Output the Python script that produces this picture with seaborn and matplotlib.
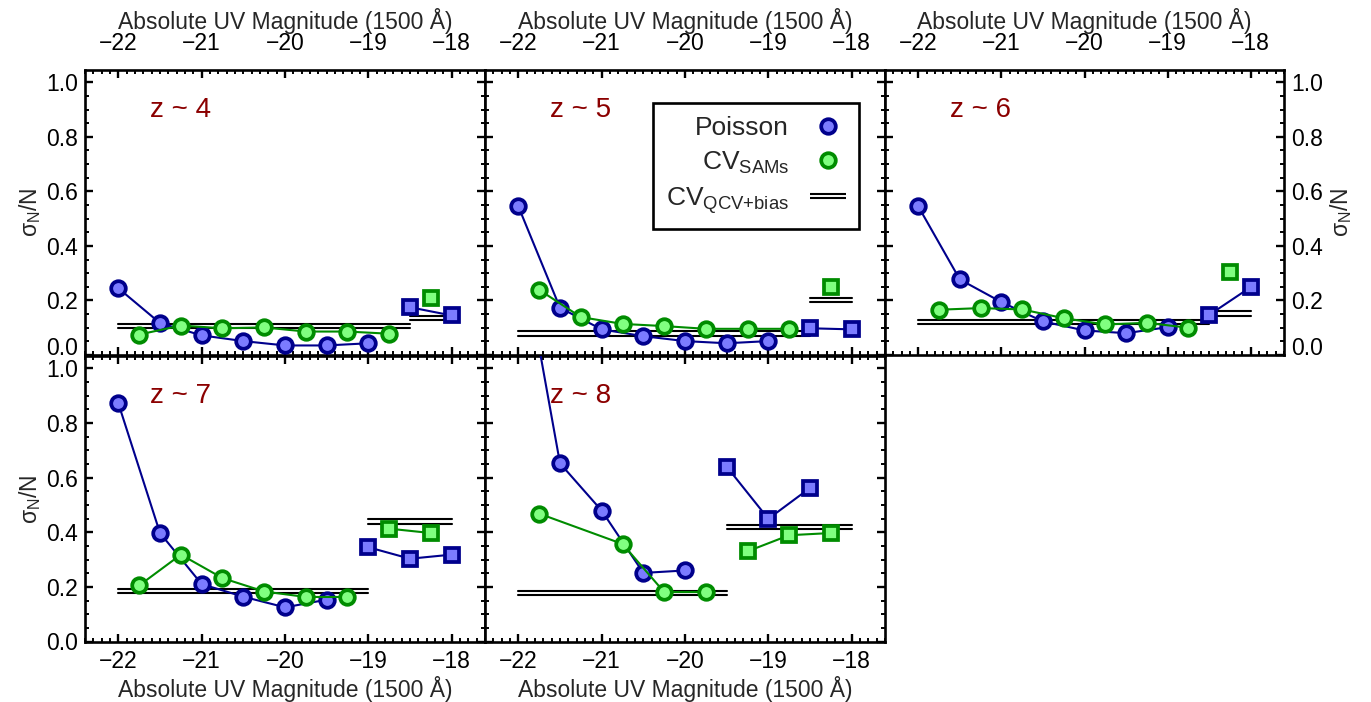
import matplotlib
matplotlib.use("Agg")
import matplotlib.pyplot as plt
import matplotlib.transforms as mtransforms
from matplotlib.lines import Line2D
from matplotlib.legend_handler import HandlerBase
from matplotlib.ticker import MultipleLocator
import seaborn as sns

sns.set_style("ticks")
plt.rcParams["font.family"] = ["Liberation Sans", "DejaVu Sans"]
plt.rcParams["mathtext.fontset"] = "custom"
plt.rcParams["mathtext.rm"] = "Liberation Sans"
plt.rcParams["mathtext.it"] = "Liberation Sans:italic"
plt.rcParams["mathtext.bf"] = "Liberation Sans:bold"

# ---------------- data ----------------
panel_labels = ["z ~ 4", "z ~ 5", "z ~ 6", "z ~ 7", "z ~ 8"]
x_ticks = [-22, -21, -20, -19, -18]
y_ticks = [0.0, 0.2, 0.4, 0.6, 0.8, 1.0]

# Poisson (circles, bright bins)
poisson_x_z4 = [-22.0, -21.5, -21.0, -20.5, -20.0, -19.5, -19.0]
poisson_z4 = [0.245, 0.117, 0.072, 0.051, 0.035, 0.035, 0.043]
poisson_x_z5 = [-22.0, -21.5, -21.0, -20.5, -20.0, -19.5, -19.0]
poisson_z5 = [0.545, 0.173, 0.094, 0.069, 0.051, 0.043, 0.051]
poisson_x_z6 = [-22.0, -21.5, -21.0, -20.5, -20.0, -19.5, -19.0]
poisson_z6 = [0.545, 0.277, 0.194, 0.123, 0.090, 0.080, 0.102]
poisson_x_z7 = [-22.0, -21.5, -21.0, -20.5, -20.0, -19.5]
poisson_z7 = [0.872, 0.397, 0.210, 0.164, 0.125, 0.153]
poisson_x_z8 = [-22.0, -21.5, -21.0, -20.5, -20.0]
poisson_z8 = [1.50, 0.652, 0.479, 0.251, 0.260]

# CV from SAMs (circles, bright bins)
sams_x_z4 = [-21.75, -21.25, -20.75, -20.25, -19.75, -19.25, -18.75]
sams_z4 = [0.075, 0.108, 0.098, 0.101, 0.086, 0.086, 0.078]
sams_x_z5 = [-21.75, -21.25, -20.75, -20.25, -19.75, -19.25, -18.75]
sams_z5 = [0.239, 0.139, 0.114, 0.106, 0.096, 0.096, 0.096]
sams_x_z6 = [-21.75, -21.25, -20.75, -20.25, -19.75, -19.25, -18.75]
sams_z6 = [0.166, 0.172, 0.167, 0.135, 0.112, 0.118, 0.100]
sams_x_z7 = [-21.75, -21.25, -20.75, -20.25, -19.75, -19.25]
sams_z7 = [0.205, 0.318, 0.232, 0.183, 0.163, 0.163]
sams_x_z8 = [-21.75, -20.75, -20.25, -19.75]
sams_z8 = [0.468, 0.357, 0.181, 0.181]

# Poisson (squares, faint bins)
poisson_sq_x_z4 = [-18.5, -18.0]
poisson_sq_z4 = [0.175, 0.145]
poisson_sq_x_z5 = [-18.5, -18.0]
poisson_sq_z5 = [0.098, 0.094]
poisson_sq_x_z6 = [-18.5, -18.0]
poisson_sq_z6 = [0.147, 0.249]
poisson_sq_x_z7 = [-19.0, -18.5, -18.0]
poisson_sq_z7 = [0.345, 0.303, 0.318]
poisson_sq_x_z8 = [-19.5, -19.0, -18.5]
poisson_sq_z8 = [0.640, 0.449, 0.562]

# CV from SAMs (squares, faint bins)
sams_sq_x_z4 = [-18.25]
sams_sq_z4 = [0.210]
sams_sq_x_z5 = [-18.25]
sams_sq_z5 = [0.249]
sams_sq_x_z6 = [-18.25]
sams_sq_z6 = [0.306]
sams_sq_x_z7 = [-18.75, -18.25]
sams_sq_z7 = [0.413, 0.397]
sams_sq_x_z8 = [-19.25, -18.75, -18.25]
sams_sq_z8 = [0.330, 0.389, 0.397]

# CV QCV+bias: bright segment and faint segment
qcv_break = [-18.5, -18.5, -18.5, -19.0, -19.5]
qcv_bright = [0.106, 0.0785, 0.1215, 0.1845, 0.1775]
qcv_faint = [0.135, 0.201, 0.1515, 0.439, 0.420]
mag_min, mag_max = -22.0, -18.0

poisson_x = [poisson_x_z4, poisson_x_z5, poisson_x_z6, poisson_x_z7, poisson_x_z8]
poisson_y = [poisson_z4, poisson_z5, poisson_z6, poisson_z7, poisson_z8]
sams_x = [sams_x_z4, sams_x_z5, sams_x_z6, sams_x_z7, sams_x_z8]
sams_y = [sams_z4, sams_z5, sams_z6, sams_z7, sams_z8]
poisson_sq_x = [poisson_sq_x_z4, poisson_sq_x_z5, poisson_sq_x_z6, poisson_sq_x_z7, poisson_sq_x_z8]
poisson_sq_y = [poisson_sq_z4, poisson_sq_z5, poisson_sq_z6, poisson_sq_z7, poisson_sq_z8]
sams_sq_x = [sams_sq_x_z4, sams_sq_x_z5, sams_sq_x_z6, sams_sq_x_z7, sams_sq_x_z8]
sams_sq_y = [sams_sq_z4, sams_sq_z5, sams_sq_z6, sams_sq_z7, sams_sq_z8]

# ---------------- styles ----------------
NAVY = "#00008C"
LBLUE = "#7B7BFF"
GREEN = "#008C00"
LGREEN = "#80FF80"
DRED = "#8B0000"
MS = 10.5
MEW = 2.7
LW = 1.5
GAP = 1.6  # half-distance (points) between the two strokes of the double line

W, H = 1371, 702
fig = plt.figure(figsize=(W / 100, H / 100), dpi=100)


def rect(l, t, w, h):
    return [l / W, 1 - (t + h) / H, w / W, h / H]


positions = [rect(85, 70, 400, 285), rect(485, 70, 400, 285), rect(885, 70, 399, 285),
             rect(85, 356, 400, 285.5), rect(485, 356, 400, 285.5)]

xlabel = "Absolute UV Magnitude (1500 Å)"
ylabel = r"σ$_{\mathrm{N}}$/N"


def series(ax, xs, ys, edge, face, marker):
    sns.lineplot(x=xs, y=ys, ax=ax, color=edge, linewidth=LW, marker=marker,
                 markersize=MS if marker == "o" else MS - 0.5,
                 markerfacecolor=face, markeredgecolor=edge,
                 markeredgewidth=MEW, errorbar=None, zorder=4)


class HandlerDoubleLine(HandlerBase):
    def create_artists(self, legend, orig_handle, xdescent, ydescent, width, height,
                       fontsize, trans):
        yc = height / 2.0 - ydescent
        off = GAP * legend.figure.dpi / 72.0 / 1.0
        arts = []
        for dy in (-GAP, GAP):
            ln = Line2D([-xdescent, -xdescent + width], [yc + dy, yc + dy],
                        color="black", lw=1.5, solid_capstyle="butt")
            ln.set_transform(trans)
            arts.append(ln)
        return arts


axes = []
for i, pos in enumerate(positions):
    ax = fig.add_axes(pos)
    axes.append(ax)
    up = mtransforms.offset_copy(ax.transData, fig=fig, y=GAP, units="points")
    dn = mtransforms.offset_copy(ax.transData, fig=fig, y=-GAP, units="points")
    for tr in (up, dn):
        sns.lineplot(x=[mag_min, qcv_break[i]], y=[qcv_bright[i], qcv_bright[i]], ax=ax,
                     color="black", linewidth=1.5, transform=tr, zorder=2, errorbar=None)
        sns.lineplot(x=[qcv_break[i], mag_max], y=[qcv_faint[i], qcv_faint[i]], ax=ax,
                     color="black", linewidth=1.5, transform=tr, zorder=2, errorbar=None)

    series(ax, poisson_x[i], poisson_y[i], NAVY, LBLUE, "o")
    series(ax, sams_x[i], sams_y[i], GREEN, LGREEN, "o")
    series(ax, poisson_sq_x[i], poisson_sq_y[i], NAVY, LBLUE, "s")
    series(ax, sams_sq_x[i], sams_sq_y[i], GREEN, LGREEN, "s")

    ax.set_xlim(-22.4, -17.6)
    ax.set_ylim(0.0, 1.045)
    ax.set_xticks(x_ticks)
    ax.set_xticklabels([f"\u2212{abs(v)}" for v in x_ticks])
    ax.set_yticks(y_ticks)
    ax.set_yticklabels([f"{v:.1f}" for v in y_ticks])
    ax.xaxis.set_minor_locator(MultipleLocator(0.1))
    ax.yaxis.set_minor_locator(MultipleLocator(0.05))
    for sp in ax.spines.values():
        sp.set_linewidth(1.9)
        sp.set_color("black")
    ax.tick_params(which="both", direction="in", top=True, bottom=True, left=True, right=True,
                   colors="black", labelsize=16.5)
    ax.tick_params(which="major", length=6, width=1.7)
    ax.tick_params(which="minor", length=3.2, width=1.4)

    top_row = i < 3
    ax.tick_params(labeltop=top_row, labelbottom=not top_row,
                   labelleft=(i in (0, 3)), labelright=(i == 2))
    ax.tick_params(axis="x", pad=11 if top_row else 6)
    ax.tick_params(axis="y", pad=5)
    if top_row:
        ax.xaxis.set_label_position("top")
        ax.set_xlabel(xlabel, fontsize=16.5, labelpad=2)
    else:
        ax.set_xlabel(xlabel, fontsize=16.5, labelpad=2)
    if i in (0, 3):
        ax.set_ylabel(ylabel, fontsize=16.5, labelpad=2)
    elif i == 2:
        ax.yaxis.set_label_position("right")
        ax.set_ylabel(ylabel, fontsize=16.5, labelpad=4, rotation=90)
    else:
        ax.set_ylabel("")

    ax.text(0.24, 0.86, panel_labels[i], transform=ax.transAxes, color=DRED,
            fontsize=20, ha="center", va="center")

# legend in z~5 panel
h_poisson = Line2D([], [], ls="none", marker="o", ms=MS, mfc=LBLUE, mec=NAVY, mew=MEW)
h_sams = Line2D([], [], ls="none", marker="o", ms=MS, mfc=LGREEN, mec=GREEN, mew=MEW)
h_qcv = Line2D([], [], color="black")
leg = axes[1].legend([h_poisson, h_sams, h_qcv],
                     ["Poisson", r"CV$_{\mathrm{SAMs}}$", r"CV$_{\mathrm{QCV{+}bias}}$"],
                     loc="upper right", bbox_to_anchor=(0.935, 0.884), markerfirst=False,
                     fontsize=19, frameon=True, fancybox=False, framealpha=1,
                     edgecolor="black", handlelength=1.35, handletextpad=0.8,
                     labelspacing=0.35, borderpad=0.5, borderaxespad=0,
                     handler_map={h_qcv: HandlerDoubleLine()})
leg.get_frame().set_linewidth(1.9)

# lift the 0.0 labels of the top row so they clear the panels below
for ax in axes[:3]:
    for t in ax.yaxis.get_major_ticks()[:1]:
        t.label1.set_va("baseline")
        t.label2.set_va("baseline")

fig.savefig("out.png", dpi=100)
